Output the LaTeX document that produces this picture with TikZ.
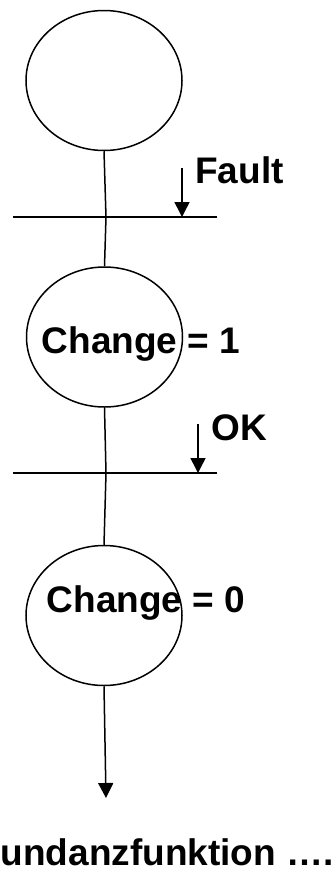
\documentclass[tikz,border=0pt]{standalone}
\usepackage{fontspec}
\setmainfont{Liberation Sans}
\usetikzlibrary{shapes.geometric,arrows.meta}
\begin{document}
\begin{tikzpicture}[x=1pt,y=-1pt,line width=1.5pt,
  stepbox/.style={draw,ellipse,minimum width=156pt,minimum height=140pt,inner sep=0pt},
  lbl/.style={anchor=base west,inner sep=0pt,font=\fontsize{37}{40}\selectfont\bfseries},
  arr/.style={-{Triangle[width=15pt,length=15pt]}}]
  \useasboundingbox (0,0) rectangle (334,873);
  % steps
  \node[stepbox] (s1) at (104,80.5) {};
  \node[stepbox] (s2) at (104.5,337) {};
  \node[stepbox] (s3) at (104,615.5) {};
  % transitions
  \coordinate (t1l) at (13,217);
  \coordinate (t1r) at (217,217);
  \coordinate (t1) at (106,217);
  \coordinate (t2l) at (13,473);
  \coordinate (t2r) at (217,473);
  \coordinate (t2) at (106,473);
  \draw (t1l) -- (t1r);
  \draw (t2l) -- (t2r);
  \draw (s1.south) -- (t1);
  \draw (t1) -- (s2.north);
  \draw (s2.south) -- (t2);
  \draw (t2) -- (s3.north);
  % outgoing link
  \coordinate (out) at (106,798);
  \draw[arr] (s3.south) -- (out);
  % transition conditions
  \coordinate (f0) at (182,168);
  \coordinate (f1) at (182,217);
  \draw[arr] (f0) -- (f1);
  \coordinate (k0) at (198,424);
  \coordinate (k1) at (198,473);
  \draw[arr] (k0) -- (k1);
  \node[lbl] (fault) at (194.5,183) {Fault};
  \node[lbl] (ok) at (211,440) {OK};
  \node[lbl] (c1) at (41,353) {Change = 1};
  \node[lbl] (c0) at (46,612) {Change = 0};
  \node[lbl] (next) at (0,865) {undanzfunktion ….};
\end{tikzpicture}
\end{document}
